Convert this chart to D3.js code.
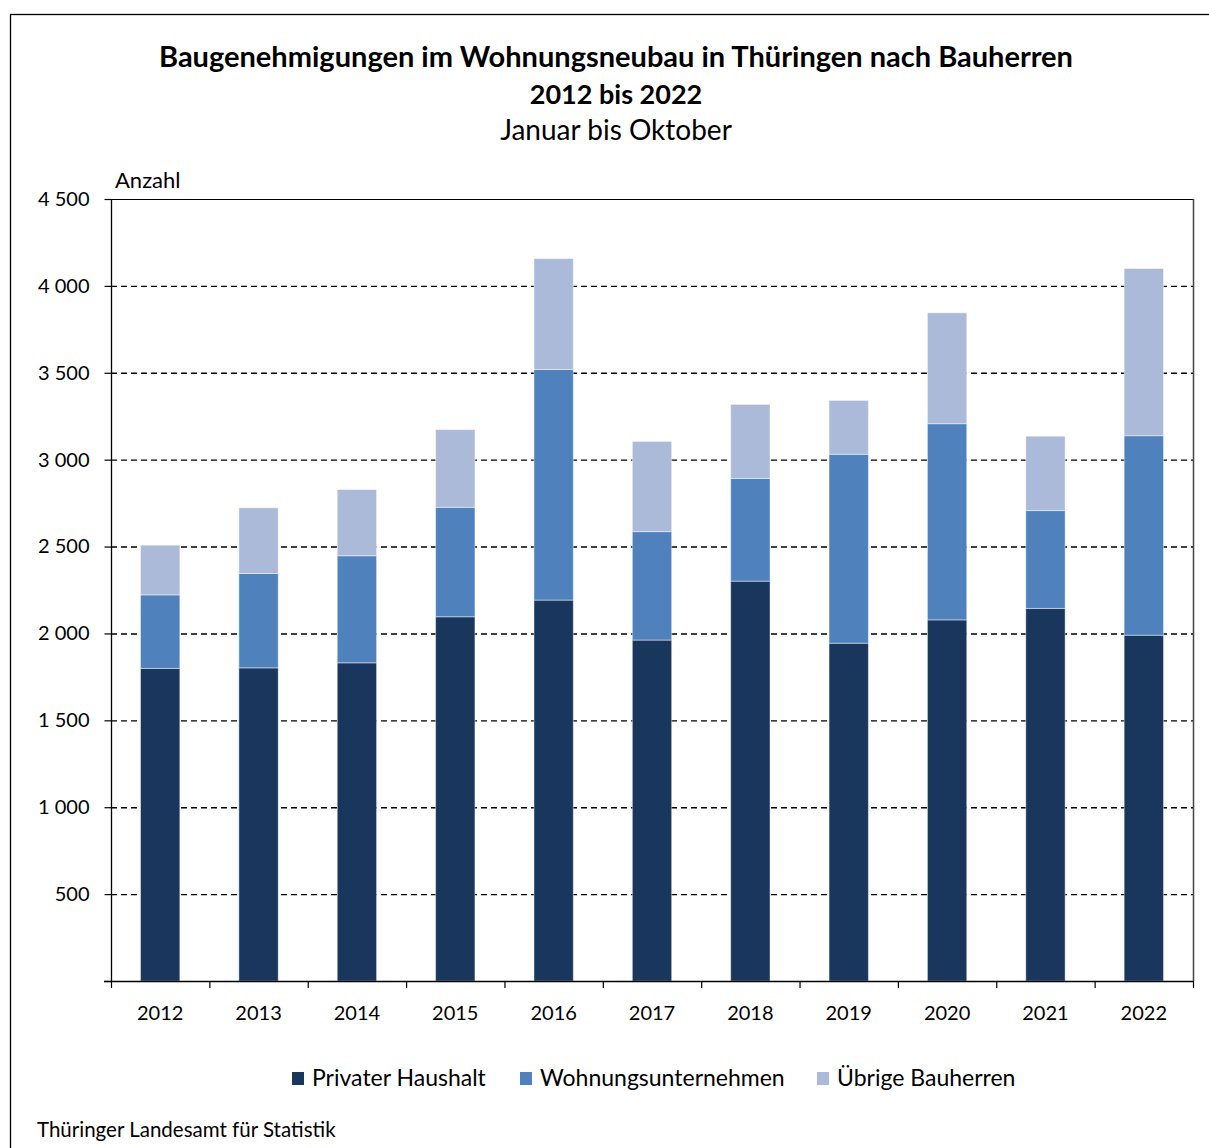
<!DOCTYPE html>
<html><head><meta charset="utf-8">
<script src="https://cdn.jsdelivr.net/npm/d3@7"></script>
<style>
html,body{margin:0;padding:0;background:#fff;}
text{font-family:"Source Sans Pro","Lato","Noto Sans",sans-serif;fill:#000;}
</style></head>
<body>
<svg id="chart" width="1209" height="1148"></svg>
<script>
const years = ["2012","2013","2014","2015","2016","2017","2018","2019","2020","2021","2022"];
const privat = [1799,1802,1831,2096,2192,1962,2301,1944,2078,2144,1990];
const wohnung = [423,543,616,630,1327,624,591,1087,1129,563,1148];
const uebrige = [286,378,381,447,638,519,426,310,638,428,962];
const seriesNames = ["Privater Haushalt","Wohnungsunternehmen","Übrige Bauherren"];
const seriesColors = ["#19365d","#4f81bd","#abbad8"];
const yTicks = [500,1000,1500,2000,2500,3000,3500,4000,4500];

const svg = d3.select("#chart");
const m = {left:111, right:1193, top:199, bottom:981};

// outer frame
svg.append("rect").attr("x",10.5).attr("y",14.5).attr("width",1220).attr("height",1160)
  .attr("fill","none").attr("stroke","#000").attr("stroke-width",1.3);

// titles
svg.append("text").attr("x",616).attr("y",67).attr("text-anchor","middle")
  .style("font-size","29px").style("font-weight","700")
  .text("Baugenehmigungen im Wohnungsneubau in Thüringen nach Bauherren");
svg.append("text").attr("x",616).attr("y",104).attr("text-anchor","middle")
  .style("font-size","27px").style("font-weight","700").text("2012 bis 2022");
svg.append("text").attr("x",616).attr("y",140).attr("text-anchor","middle")
  .style("font-size","28px").text("Januar bis Oktober");

const x = d3.scaleBand().domain(years).range([m.left,m.right]).paddingInner(0.6).paddingOuter(0.3);
const y = d3.scaleLinear().domain([0,4500]).range([m.bottom,m.top]);

// gridlines
svg.append("g").selectAll("line").data(yTicks.filter(t=>t<4500)).join("line")
  .attr("x1",m.left).attr("x2",m.right).attr("y1",d=>y(d)+0.5).attr("y2",d=>y(d)+0.5)
  .attr("stroke","#000").attr("stroke-width",1.4).attr("stroke-dasharray","6,4");

// stacked data
const table = years.map((yr,i)=>({year:yr, p:privat[i], w:wohnung[i], u:uebrige[i]}));
const stack = d3.stack().keys(["p","w","u"])(table);
svg.append("g").selectAll("g").data(stack).join("g")
  .attr("fill",(d,i)=>seriesColors[i])
  .selectAll("rect").data(d=>d).join("rect")
  .attr("x",d=>x(d.data.year)).attr("width",x.bandwidth())
  .attr("y",d=>y(d[1])).attr("height",d=>y(d[0])-y(d[1]))
  .attr("stroke","rgba(255,255,255,0.45)").attr("stroke-width",1);

// plot border top/right
svg.append("line").attr("x1",m.left).attr("x2",m.right+0.5).attr("y1",m.top+0.5).attr("y2",m.top+0.5)
  .attr("stroke","#000").attr("stroke-width",1.2);
svg.append("line").attr("x1",m.right+0.5).attr("x2",m.right+0.5).attr("y1",m.top).attr("y2",m.bottom)
  .attr("stroke","#444").attr("stroke-width",1.5);

// y axis
const yAxis = d3.axisLeft(y).tickValues([0].concat(yTicks)).tickSize(7).tickPadding(15)
  .tickFormat(d=> d===0 ? "" : d3.format(",")(d).replace(/,/g," "));
const gy = svg.append("g").attr("transform",`translate(${m.left+0.5},0)`).call(yAxis);
gy.select(".domain").attr("stroke","#000").attr("stroke-width",1.3).attr("d",`M0,${m.top}V${m.bottom}`);
gy.selectAll(".tick line").attr("stroke","#000").attr("stroke-width",1.2);
gy.selectAll(".tick text").style("font-size","20px").style("font-family",'"Source Sans Pro","Lato","Noto Sans",sans-serif').attr("fill","#000");

// x axis
const xAxis = d3.axisBottom(x).tickSize(0).tickPadding(24);
const gx = svg.append("g").attr("transform",`translate(0,${m.bottom+0.5})`).call(xAxis);
gx.select(".domain").attr("stroke","#000").attr("stroke-width",1.3).attr("d",`M${m.left-7},0H${m.right}`);
gx.selectAll(".tick text").style("font-size","20px").style("font-family",'"Source Sans Pro","Lato","Noto Sans",sans-serif').attr("fill","#000");
const bounds = d3.range(years.length+1).map(i=>m.left + i*(m.right-m.left)/years.length);
svg.append("g").selectAll("line").data(bounds).join("line")
  .attr("x1",d=>d+0.5).attr("x2",d=>d+0.5).attr("y1",m.bottom).attr("y2",m.bottom+7)
  .attr("stroke","#000").attr("stroke-width",1.2);

// axis title
svg.append("text").attr("x",115).attr("y",188).style("font-size","22px").text("Anzahl");

// legend
const legX = [292,520,817];
const lg = svg.append("g");
seriesNames.forEach((n,i)=>{
  lg.append("rect").attr("x",legX[i]).attr("y",1072).attr("width",12).attr("height",13).attr("fill",seriesColors[i]);
  lg.append("text").attr("x",legX[i]+20).attr("y",1086).style("font-size","23px").text(n);
});

// source
svg.append("text").attr("x",37).attr("y",1137).style("font-size","20.5px").text("Thüringer Landesamt für Statistik");
</script>
</body></html>
